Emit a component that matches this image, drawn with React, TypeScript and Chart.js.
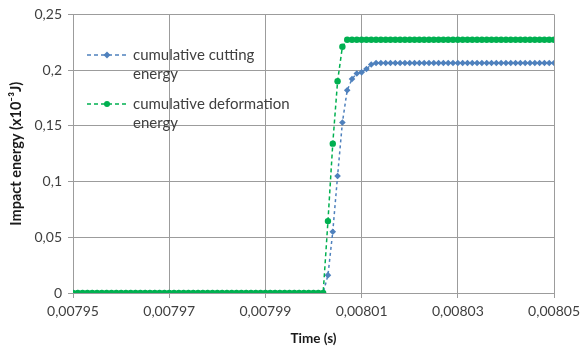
import { useEffect, useRef } from 'react';
import { Chart, registerables } from 'chart.js';

Chart.register(...registerables);

// sampling grid of the simulation output (s)
const TIME_START = 0.00795;
const TIME_STEP = 0.000001;

// cumulative cutting energy (x10^-3 J)
const CUTTING = [
  0, 0, 0, 0, 0, 0, 0, 0, 0, 0,
  0, 0, 0, 0, 0, 0, 0, 0, 0, 0,
  0, 0, 0, 0, 0, 0, 0, 0, 0, 0,
  0, 0, 0, 0, 0, 0, 0, 0, 0, 0,
  0, 0, 0, 0, 0, 0, 0, 0, 0, 0,
  0, 0, 0,
  0.016, 0.055, 0.105, 0.153, 0.182, 0.192, 0.197, 0.198, 0.201, 0.205,
  0.2064, 0.2064, 0.2064, 0.2064, 0.2064, 0.2064, 0.2064, 0.2064, 0.2064, 0.2064,
  0.2064, 0.2064, 0.2064, 0.2064, 0.2064, 0.2064, 0.2064, 0.2064, 0.2064, 0.2064,
  0.2064, 0.2064, 0.2064, 0.2064, 0.2064, 0.2064, 0.2064, 0.2064, 0.2064, 0.2064,
  0.2064, 0.2064, 0.2064, 0.2064, 0.2064, 0.2064, 0.2064, 0.2064,
];

// cumulative deformation energy (x10^-3 J)
const DEFORMATION = [
  0, 0, 0, 0, 0, 0, 0, 0, 0, 0,
  0, 0, 0, 0, 0, 0, 0, 0, 0, 0,
  0, 0, 0, 0, 0, 0, 0, 0, 0, 0,
  0, 0, 0, 0, 0, 0, 0, 0, 0, 0,
  0, 0, 0, 0, 0, 0, 0, 0, 0, 0,
  0, 0, 0,
  0.0645, 0.134, 0.19, 0.221,
  0.2273, 0.2273, 0.2273, 0.2273, 0.2273, 0.2273, 0.2273, 0.2273, 0.2273, 0.2273,
  0.2273, 0.2273, 0.2273, 0.2273, 0.2273, 0.2273, 0.2273, 0.2273, 0.2273, 0.2273,
  0.2273, 0.2273, 0.2273, 0.2273, 0.2273, 0.2273, 0.2273, 0.2273, 0.2273, 0.2273,
  0.2273, 0.2273, 0.2273, 0.2273, 0.2273, 0.2273, 0.2273, 0.2273, 0.2273, 0.2273,
  0.2273, 0.2273, 0.2273, 0.2273,
];

const TIMES = CUTTING.map((_, i) => +(TIME_START + i * TIME_STEP).toFixed(7));

const X_TICKS = [0.00795, 0.00797, 0.00799, 0.00801, 0.00803, 0.00805];
const Y_TICKS = [0, 0.05, 0.1, 0.15, 0.2, 0.25];

const SERIES_NAMES = ['cumulative cutting|energy', 'cumulative deformation|energy'];
const X_TITLE = 'Time (s)';
const Y_TITLE = 'Impact energy (x10\u207B\u00B3J)';

const BLUE = '#4F81BD';
const GREEN = '#00B050';
const GRID = '#9C9C9C';
const FONT = 'Lato, "Open Sans", sans-serif';

const fmt = (v: number) => String(+v.toFixed(6)).replace('.', ',');

export default function App() {
  const ref = useRef<HTMLCanvasElement | null>(null);

  useEffect(() => {
    if (!ref.current) return;

    const overlay = {
      id: 'overlay',
      afterDraw(chart: any) {
        const ctx = chart.ctx as CanvasRenderingContext2D;
        const area = chart.chartArea;
        ctx.save();
        // axis titles
        ctx.fillStyle = '#1a1a1a';
        ctx.textAlign = 'center';
        ctx.textBaseline = 'middle';
        ctx.font = `bold 13.5px ${FONT}`;
        ctx.fillText(X_TITLE, (area.left + area.right) / 2, 339);
        ctx.save();
        ctx.font = `bold 14.5px ${FONT}`;
        ctx.translate(16, (area.top + area.bottom) / 2);
        ctx.rotate(-Math.PI / 2);
        ctx.fillText(Y_TITLE, 0, 0);
        ctx.restore();

        // legend
        const entries = [
          { y: 55, color: BLUE, style: 'rectRot', name: SERIES_NAMES[0] },
          { y: 104, color: GREEN, style: 'circle', name: SERIES_NAMES[1] },
        ];
        for (const e of entries) {
          ctx.strokeStyle = e.color;
          ctx.lineWidth = 1.5;
          ctx.setLineDash([4, 3]);
          ctx.beginPath();
          ctx.moveTo(87, e.y);
          ctx.lineTo(127, e.y);
          ctx.stroke();
          ctx.setLineDash([]);
          ctx.fillStyle = e.color;
          ctx.beginPath();
          if (e.style === 'circle') {
            ctx.arc(107, e.y, 3, 0, Math.PI * 2);
          } else {
            ctx.moveTo(107, e.y - 3.5);
            ctx.lineTo(110.5, e.y);
            ctx.lineTo(107, e.y + 3.5);
            ctx.lineTo(103.5, e.y);
            ctx.closePath();
          }
          ctx.fill();
          ctx.fillStyle = '#404040';
          ctx.font = `15px ${FONT}`;
          ctx.textAlign = 'left';
          ctx.textBaseline = 'middle';
          const lines = e.name.split('|');
          lines.forEach((l, i) => ctx.fillText(l, 133, e.y + i * 19));
        }
        ctx.restore();
      },
    };

    const chart = new Chart(ref.current, {
      type: 'line',
      data: {
        datasets: [
          {
            label: 'cumulative deformation energy',
            data: TIMES.map((t, i) => ({ x: t, y: DEFORMATION[i] })),
            borderColor: GREEN,
            backgroundColor: GREEN,
            borderWidth: 1.5,
            borderDash: [4, 3],
            pointStyle: 'circle',
            pointRadius: 3.2,
            pointBorderWidth: 0,
            tension: 0,
          },
          {
            label: 'cumulative cutting energy',
            data: TIMES.map((t, i) => ({ x: t, y: CUTTING[i] })),
            borderColor: BLUE,
            backgroundColor: BLUE,
            borderWidth: 1.5,
            borderDash: [3, 3],
            pointStyle: 'rectRot',
            pointRadius: 3.3,
            pointBorderWidth: 0,
            tension: 0,
          },
        ],
      },
      options: {
        animation: false,
        responsive: false,
        devicePixelRatio: 1,
        layout: { padding: { top: 10, right: 27, left: 0, bottom: 0 } },
        plugins: {
          legend: { display: false },
          tooltip: { enabled: false },
          title: { display: false },
        },
        scales: {
          x: {
            type: 'linear',
            min: 0.00795,
            max: 0.00805,
            afterBuildTicks: (s: any) => {
              s.ticks = X_TICKS.map((v) => ({ value: v }));
            },
            afterFit: (s: any) => {
              s.height = 58;
            },
            ticks: {
              autoSkip: false,
              maxRotation: 0,
              padding: 5,
              color: '#404040',
              font: { family: FONT, size: 14 },
              callback: (v: any) => fmt(Number(v)),
            },
            grid: { color: GRID, lineWidth: 1, tickLength: 5, drawTicks: true },
            border: { color: GRID, width: 1 },
          },
          y: {
            type: 'linear',
            min: 0,
            max: 0.25,
            afterBuildTicks: (s: any) => {
              s.ticks = Y_TICKS.map((v) => ({ value: v }));
            },
            afterFit: (s: any) => {
              s.width = 73;
            },
            ticks: {
              padding: 6,
              color: '#404040',
              font: { family: FONT, size: 14 },
              callback: (v: any) => fmt(Number(v)),
            },
            grid: { color: GRID, lineWidth: 1, tickLength: 5, drawTicks: true },
            border: { color: GRID, width: 1 },
          },
        },
      },
      plugins: [overlay],
    } as any);

    return () => chart.destroy();
  }, []);

  return (
    <div style={{ position: 'absolute', left: 0, top: 0, width: 585, height: 351, background: '#fff' }}>
      <canvas ref={ref} width={585} height={351} style={{ width: 585, height: 351 }} />
    </div>
  );
}
